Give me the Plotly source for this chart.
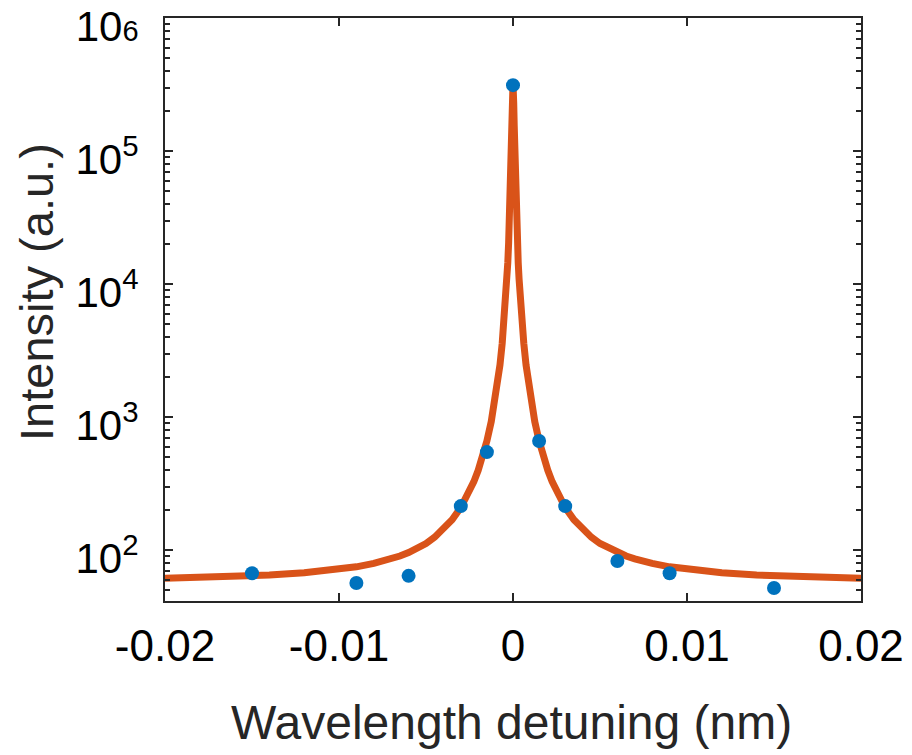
import plotly.graph_objects as go

# measured data points
x_pts = [-0.015, -0.009, -0.006, -0.003, -0.0015, 0.0, 0.0015, 0.003, 0.006, 0.009, 0.015]
y_pts = [67, 56.5, 64, 214, 545, 313000, 661, 214, 82.7, 67, 51.8]

# fitted curve, values
x_fit = [-0.02, -0.018, -0.016, -0.015, -0.014, -0.012, -0.011, -0.01, -0.009, -0.008,
         -0.0075, -0.007, -0.0065, -0.006, -0.0055, -0.005, -0.0045, -0.004, -0.0035,
         -0.003, -0.00275, -0.0025, -0.00225, -0.002, -0.00175, -0.0015, -0.00125, -0.001,
         -0.00085, -0.00075, -0.00062, -0.0005, -0.00045, -0.0004, -0.00035, -0.0003,
         -0.00025, -0.0002, -0.00015, -0.0001, -0.00007, -0.00004, 0.0,
         0.00004, 0.00007, 0.0001, 0.00015, 0.0002, 0.00025, 0.0003, 0.00035, 0.0004,
         0.00045, 0.0005, 0.00062, 0.00075, 0.00085, 0.001, 0.00125, 0.0015, 0.00175,
         0.002, 0.00225, 0.0025, 0.00275, 0.003, 0.0035, 0.004, 0.0045, 0.005, 0.0055,
         0.006, 0.0065, 0.007, 0.0075, 0.008, 0.009, 0.01, 0.011, 0.012, 0.014, 0.015,
         0.016, 0.018, 0.02]
y_fit = [61.4, 62.2, 63.3, 64.0, 64.9, 67.4, 69.2, 71.6, 74.8, 79.3,
         82.2, 85.8, 90.2, 95.8, 103, 112, 125, 143, 169,
         209, 238, 276, 327, 398, 502, 661, 924, 1412,
         1930, 2458, 3590, 5408, 6700, 8340, 10880, 14430,
         20600, 30700, 50840, 95400, 155000, 232000, 320000,
         232000, 155000, 95400, 50840, 30700, 20600, 14430, 10880, 8340,
         6700, 5408, 3590, 2458, 1930, 1412, 924, 661, 502,
         398, 327, 276, 238, 209, 169, 143, 125, 112, 103,
         95.8, 90.2, 85.8, 82.2, 79.3, 74.8, 71.6, 69.2, 67.4, 64.9, 64.0,
         63.3, 62.2, 61.4]

x_ticks = [-0.02, -0.01, 0, 0.01, 0.02]
x_ticklabels = ["-0.02", "-0.01", "0", "0.01", "0.02"]
y_ticks = [1e2, 1e3, 1e4, 1e5, 1e6]
y_ticklabels = ["10<sup>2</sup>", "10<sup>3</sup>", "10<sup>4</sup>", "10<sup>5</sup>",
                "10<span style='font-size:29px'>6</span>"]
y_minor = [m * 10 ** e for e in range(1, 6) for m in range(2, 10)]

AX = "#262626"
FONT = "Liberation Sans, Arial, sans-serif"
OFF = 8  # page body margin of the html page
W, H = 912, 755
# target plot box in screenshot pixels
PX0, PX1, PY0, PY1 = 165, 861, 18, 601
L, T = PX0 - OFF, PY0 - OFF
PW, PH = PX1 - PX0, PY1 - PY0
R, B = W - L - PW, H - T - PH


def px(xpix):
    return (xpix - PX0) / PW


def py(ypix):
    return (PY1 - ypix) / PH


fig = go.Figure()
fig.add_trace(go.Scatter(x=x_fit, y=y_fit, mode="lines",
                         line=dict(color="#D95319", width=7), hoverinfo="skip"))
fig.add_trace(go.Scatter(x=x_pts, y=y_pts, mode="markers",
                         marker=dict(color="#0072BD", size=14, line=dict(width=0))))

fig.update_layout(
    width=W, height=H,
    margin=dict(l=L, r=R, t=T, b=B, autoexpand=False),
    paper_bgcolor="white", plot_bgcolor="white",
    showlegend=False,
    font=dict(family=FONT, color=AX),
    xaxis=dict(range=[-0.02, 0.02], tickvals=x_ticks, ticktext=x_ticklabels,
               ticks="inside", ticklen=8, tickwidth=1.5, tickcolor=AX,
               showline=True, linecolor=AX, linewidth=2, mirror="ticks",
               showgrid=False, zeroline=False, automargin=False, ticklabelstandoff=5,
               ticklabeloverflow="allow",
               tickfont=dict(size=44, family=FONT, color="black")),
    yaxis=dict(type="log", range=[1.617, 6.0005], tickvals=y_ticks, ticktext=y_ticklabels,
               ticks="inside", ticklen=8, tickwidth=1.5, tickcolor=AX,
               showline=True, linecolor=AX, linewidth=2, mirror="ticks",
               showgrid=False, zeroline=False, automargin=False, ticklabelstandoff=16,
               ticklabelshift=8,
               ticklabeloverflow="allow",
               minor=dict(tickvals=y_minor, ticks="inside", ticklen=5, tickwidth=1.5,
                          tickcolor=AX, showgrid=False),
               tickfont=dict(size=42, family=FONT, color="black")),
    annotations=[
        dict(text="Wavelength detuning (nm)", x=px(511), y=py(722),
             xref="paper", yref="paper", xanchor="center", yanchor="middle",
             showarrow=False, font=dict(size=48, family=FONT, color=AX)),
        dict(text="Intensity (a.u.)", x=px(36), y=py(292),
             xref="paper", yref="paper", xanchor="center", yanchor="middle",
             showarrow=False, textangle=-90,
             font=dict(size=47, family=FONT, color=AX)),
    ],
)

fig.write_html("out.html")
